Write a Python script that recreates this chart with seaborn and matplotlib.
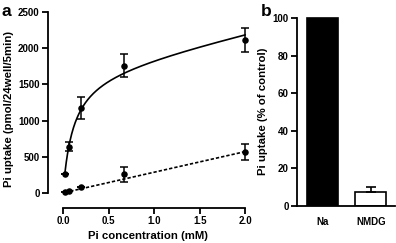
import numpy as np
import pandas as pd
import matplotlib
matplotlib.use("Agg")
import matplotlib.pyplot as plt
import seaborn as sns

# ---- data ----
conc = [0.022, 0.067, 0.2, 0.667, 2.0]
na_uptake = [262, 640, 1170, 1758, 2113]
na_err = [0, 60, 150, 155, 165]
nmdg_uptake = [16, 28, 78, 258, 570]
nmdg_err = [0, 0, 0, 107, 110]

# fitted model parameters (Michaelis-Menten + linear component)
vmax = 1700
km = 0.11
lin_slope = 285
lin_icpt = 2

cond_labels = ["Na", "NMDG"]
cond_values = [100, 7.7]
cond_err = [0, 2.4]

sns.set_theme(style="ticks")
plt.rcParams["font.family"] = ["Liberation Sans", "DejaVu Sans"]
plt.rcParams["font.weight"] = "bold"
plt.rcParams["axes.labelweight"] = "bold"
plt.rcParams["text.color"] = "black"
plt.rcParams["axes.labelcolor"] = "black"
plt.rcParams["xtick.color"] = "black"
plt.rcParams["ytick.color"] = "black"
plt.rcParams["axes.edgecolor"] = "black"

fig = plt.figure(figsize=(3.96, 2.43), dpi=100)

TICK_FS = 7.0
LAB_FS = 8.2

# ---------- panel a ----------
axa = fig.add_axes([48/396, 1-208/243, 200/396, (208-10.5)/243])
xs = np.linspace(conc[0], conc[-1], 300)
fit_df = pd.DataFrame({
    "x": xs,
    "na": vmax*xs/(km+xs) + lin_slope*xs + lin_icpt,
    "nmdg": lin_slope*xs + lin_icpt,
})
sns.lineplot(data=fit_df, x="x", y="na", ax=axa, color="black", lw=1.2)
sns.lineplot(data=fit_df, x="x", y="nmdg", ax=axa, color="black", lw=1.2,
             linestyle=(0, (2, 1.2)))
pts = pd.DataFrame({"x": conc + conc,
                    "y": na_uptake + nmdg_uptake,
                    "e": na_err + nmdg_err})
axa.errorbar(pts["x"], pts["y"], yerr=pts["e"], fmt="none", ecolor="black",
             elinewidth=1.1, capsize=2.9, capthick=1.1, zorder=3)
sns.scatterplot(data=pts, x="x", y="y", ax=axa, color="black", s=22,
                edgecolor="black", linewidth=0, zorder=4)

axa.set_xlim(-0.165, 2.03)
axa.set_ylim(-207, 2520)
axa.set_xticks([0, 0.5, 1.0, 1.5, 2.0])
axa.set_xticklabels(["0.0", "0.5", "1.0", "1.5", "2.0"])
axa.set_yticks([0, 500, 1000, 1500, 2000, 2500])
axa.spines["left"].set_bounds(0, 2500)
axa.spines["bottom"].set_bounds(0, 2.0)
for s in ("top", "right"):
    axa.spines[s].set_visible(False)
for s in ("left", "bottom"):
    axa.spines[s].set_linewidth(1.3)
axa.tick_params(axis="both", length=4, width=1.3, labelsize=TICK_FS, pad=2,
                color="black", labelcolor="black")
axa.set_xlabel("Pi concentration (mM)", fontsize=LAB_FS, labelpad=3)
axa.set_ylabel("Pi uptake (pmol/24well/5min)", fontsize=LAB_FS, labelpad=3)
for lab in axa.get_xticklabels() + axa.get_yticklabels():
    lab.set_fontweight("bold")

# ---------- panel b ----------
axb = fig.add_axes([297/396, 1-206/243, 98/396, (206-17)/243])
bdf = pd.DataFrame({"cond": cond_labels, "val": cond_values})
sns.barplot(data=bdf, x="cond", y="val", ax=axb, palette=["black", "white"],
            hue="cond", legend=False, edgecolor="black", linewidth=1.2,
            width=0.63)
axb.errorbar([1], [cond_values[1]], yerr=[[0], [cond_err[1]]], fmt="none",
             ecolor="black", elinewidth=1.2, capsize=3.5, capthick=1.2)
axb.set_xlim(-0.52, 1.5)
axb.set_ylim(0, 100.5)
axb.set_yticks([0, 20, 40, 60, 80, 100])
axb.spines["left"].set_bounds(0, 100)
for s in ("top", "right"):
    axb.spines[s].set_visible(False)
for s in ("left", "bottom"):
    axb.spines[s].set_linewidth(1.3)
axb.tick_params(axis="y", length=4, width=1.3, labelsize=TICK_FS, pad=2,
                color="black", labelcolor="black")
axb.tick_params(axis="x", length=0, labelsize=TICK_FS, pad=8,
                labelcolor="black")
axb.set_xlabel("")
axb.set_ylabel("Pi uptake (% of control)", fontsize=LAB_FS, labelpad=3)
for lab in axb.get_xticklabels() + axb.get_yticklabels():
    lab.set_fontweight("bold")

fig.text(1/396, 1-11/243, "a", fontsize=12.5, fontweight="bold", va="center",
         color="black")
fig.text(261/396, 1-11/243, "b", fontsize=12.5, fontweight="bold", va="center",
         color="black")

fig.savefig("out.png", dpi=100)
